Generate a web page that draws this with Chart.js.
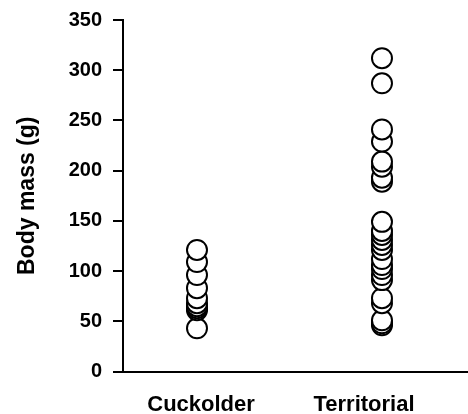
<!DOCTYPE html>
<html>
<head>
<meta charset="utf-8">
<script src="https://cdn.jsdelivr.net/npm/chart.js@4/dist/chart.umd.min.js"></script>
<style>
  html, body { margin: 0; padding: 0; background: #fff; }
  #c { display: block; }
</style>
</head>
<body>
<canvas id="c" width="468" height="414"></canvas>
<script>
// ---- data ----
const categories = ["Cuckolder", "Territorial"];
const cuckolderMass = [121, 109, 96, 83, 73, 68, 65, 63, 61, 43];
const territorialMass = [312, 287, 241, 229, 209, 204, 193, 189, 149, 140, 136, 131, 126, 121, 112, 106, 102, 96, 91, 73, 68, 51, 48, 46];
const yTicks = [0, 50, 100, 150, 200, 250, 300, 350];
const yTitle = "Body mass (g)";

function toPoints(values, catIndex) {
  return values.slice().sort((a, b) => a - b).map(v => ({ x: catIndex + 1, y: v }));
}

const pointStyle = {
  pointRadius: 10,
  pointHoverRadius: 10,
  pointBorderWidth: 2,
  pointBackgroundColor: "#ffffff",
  pointBorderColor: "#000000",
  showLine: false,
  clip: false
};

const FONT = "'Liberation Sans', Arial, sans-serif";

new Chart(document.getElementById("c"), {
  type: "scatter",
  data: {
    datasets: [
      Object.assign({ label: categories[0], data: toPoints(cuckolderMass, 0) }, pointStyle),
      Object.assign({ label: categories[1], data: toPoints(territorialMass, 1) }, pointStyle)
    ]
  },
  options: {
    responsive: false,
    devicePixelRatio: 1,
    animation: false,
    events: [],
    layout: { autoPadding: false, padding: { top: 20, left: 0, right: 0, bottom: 0 } },
    plugins: { legend: { display: false }, tooltip: { enabled: false } },
    scales: {
      x: {
        type: "linear",
        min: 0.6,
        max: 2.465,
        grid: { display: false, drawTicks: false },
        border: { display: true, color: "#000", width: 2 },
        afterBuildTicks: s => { s.ticks = [{ value: 1.022 }, { value: 1.903 }]; },
        afterFit: s => { s.height = 42.5; s.paddingLeft = 0; s.paddingRight = 0; },
        ticks: {
          autoSkip: false,
          maxRotation: 0,
          padding: 20,
          color: "#000",
          font: { family: FONT, size: 22, weight: "bold" },
          callback: (v, i) => categories[i]
        }
      },
      y: {
        type: "linear",
        min: 0,
        max: 350,
        afterBuildTicks: s => { s.ticks = yTicks.map(v => ({ value: v })); },
        afterFit: s => { s.width = 123; s.paddingTop = 0; s.paddingBottom = 0; },
        grid: {
          display: true,
          drawOnChartArea: false,
          drawTicks: true,
          tickLength: 10,
          tickColor: "#000",
          lineWidth: 2,
          color: "#000"
        },
        border: { display: true, color: "#000", width: 2 },
        ticks: {
          padding: 11,
          color: "#000",
          font: { family: FONT, size: 20, weight: "bold" },
          callback: v => String(v)
        },
        title: {
          display: true,
          text: yTitle,
          color: "#000",
          padding: { top: 14, bottom: 0 },
          font: { family: FONT, size: 23, weight: "bold" }
        }
      }
    }
  }
});
</script>
</body>
</html>
